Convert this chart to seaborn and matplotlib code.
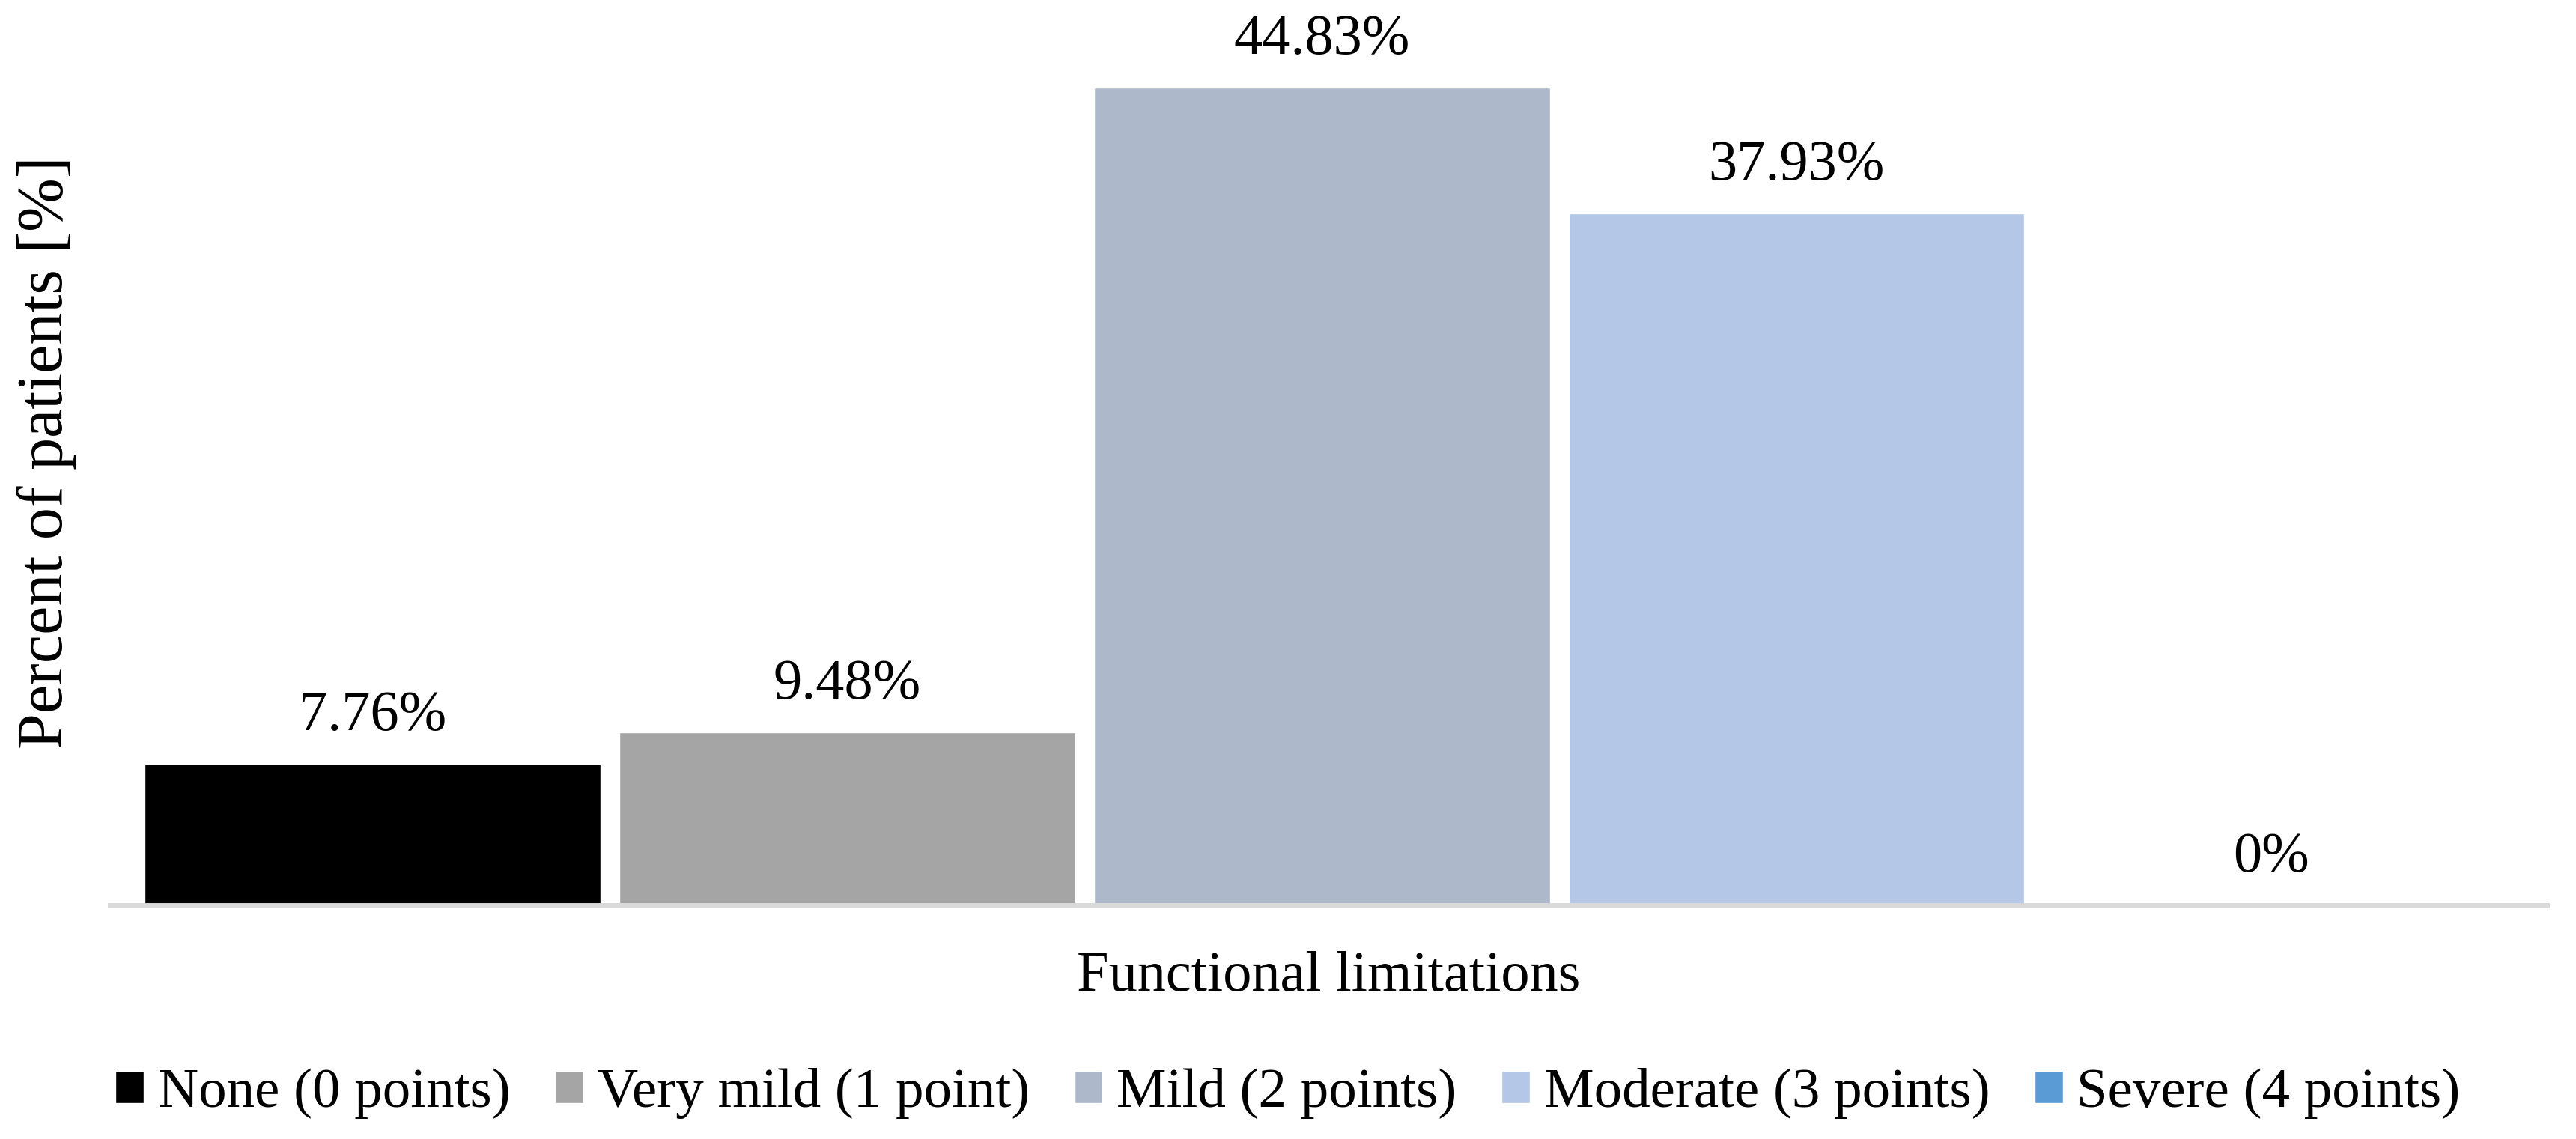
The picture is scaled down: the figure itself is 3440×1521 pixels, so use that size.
# Functional limitations - percent of patients per level
import pandas as pd
import matplotlib
matplotlib.use("Agg")
import matplotlib.pyplot as plt
import seaborn as sns

# Data

levels = [
    "None (0 points)",
    "Very mild (1 point)",
    "Mild (2 points)",
    "Moderate (3 points)",
    "Severe (4 points)",
]
percents = [7.76, 9.48, 44.83, 37.93, 0.0]
colors = ["#000000", "#a5a5a5", "#adb9ca", "#b4c7e7", "#5b9bd5"]
group = "Functional limitations"

df = pd.DataFrame({
    "group": [group] * len(levels),
    "level": levels,
    "percent": percents,
})

# Style

sns.set_style("white")
plt.rcParams["font.family"] = ["Liberation Serif", "DejaVu Serif"]
plt.rcParams["text.color"] = "black"
plt.rcParams["axes.labelcolor"] = "black"

fig = plt.figure(figsize=(34.4, 15.21), dpi=100)
ax = fig.add_axes([0.0427, 0.2051, 0.946, 0.7949])

sns.barplot(
    data=df,
    x="group",
    y="percent",
    hue="level",
    hue_order=levels,
    palette=colors,
    width=0.974,
    gap=0.04,
    saturation=1,
    ax=ax,
)

# Value labels

for container, v in zip(ax.containers, percents):
    ax.bar_label(container, labels=[f"{v:g}%"], padding=21, fontsize=55,
                 color="black")

ax.set_xlim(-0.4973, 0.5027)
ax.set_ylim(0, 49.65)

ax.set_xticks([])
ax.set_yticks([])
ax.set_xlabel("Functional limitations", fontsize=55, labelpad=44)
ax.set_ylabel("Percent of patients [%]", fontsize=62, labelpad=32)

for side in ["top", "right", "left"]:
    ax.spines[side].set_visible(False)
ax.spines["bottom"].set_color("#d9d9d9")
ax.spines["bottom"].set_linewidth(5)

# Legend at bottom

ax.legend(
    loc="center",
    bbox_to_anchor=(0.5, 0.04),
    bbox_transform=fig.transFigure,
    ncol=5,
    frameon=False,
    fontsize=54,
    handlelength=0.5,
    handleheight=0.5,
    handletextpad=0.25,
    columnspacing=0.8,
    labelcolor="black",
)

fig.savefig("out.png", dpi=100)
